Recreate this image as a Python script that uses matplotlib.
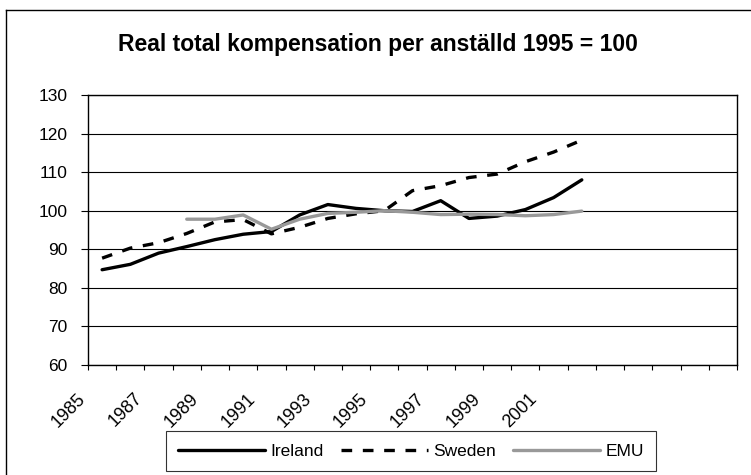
import matplotlib
matplotlib.use("Agg")
import matplotlib.pyplot as plt
from matplotlib.lines import Line2D
from matplotlib.transforms import ScaledTranslation
import numpy as np

plt.rcParams['font.family'] = ['Liberation Sans', 'DejaVu Sans']

# ---- data ----
categories = [str(y) for y in range(1985, 2008)]
tick_labels = ['1985', '', '1987', '', '1989', '', '1991', '', '1993', '', '1995', '',
               '1997', '', '1999', '', '2001', '', '', '', '', '', '']
ireland = [84.7, 86.1, 89.0, 90.7, 92.5, 93.9, 94.6, 98.9, 101.6, 100.6, 100.0, 99.8,
           102.6, 98.0, 98.6, 100.3, 103.4, 108.0]
sweden = [87.7, 90.3, 91.7, 94.1, 97.1, 97.7, 94.0, 95.7, 98.0, 99.2, 100.0, 105.2,
          106.5, 108.6, 109.5, 112.7, 115.2, 118.3]
emu = [None, None, None, 97.8, 97.8, 98.9, 95.2, 97.8, 99.3, 99.6, 100.0, 99.6,
       99.0, 99.1, 99.0, 98.7, 99.0, 99.9]
series_names = ['Ireland', 'Sweden', 'EMU']
title = 'Real total kompensation per anställd 1995 = 100'
yticks = [60, 70, 80, 90, 100, 110, 120, 130]

W, H = 751, 475
fig = plt.figure(figsize=(W / 100, H / 100), dpi=100)
ax = fig.add_axes([88 / W, 1 - 365 / H, (737 - 88) / W, (365 - 95) / H])

x = np.arange(len(categories))
def vals(v):
    return np.array([np.nan if a is None else a for a in v], dtype=float)

ax.plot(x[:len(ireland)], vals(ireland), color='black', lw=2.4, label=series_names[0],
        solid_joinstyle='round', solid_capstyle='round')
ax.plot(x[:len(sweden)], vals(sweden), color='black', lw=2.4, label=series_names[1],
        dashes=(3.2, 3.2))
ax.plot(x[:len(emu)], vals(emu), color='#999999', lw=2.4, label=series_names[2],
        solid_joinstyle='round', solid_capstyle='round')

ax.set_xlim(-0.5, len(categories) - 0.5)
ax.set_ylim(60, 130)
ax.set_yticks(yticks)
ax.set_yticklabels([str(t) for t in yticks], fontsize=12.5)
ax.yaxis.grid(True, color='black', lw=0.8)
ax.set_axisbelow(True)
ax.tick_params(axis='y', direction='out', length=5, width=0.8, pad=10, colors='black')

ax.set_xticks(np.arange(-0.5, len(categories), 1.0))
ax.set_xticklabels([])
ax.tick_params(axis='x', direction='out', length=3.5, width=0.8)
ax.set_xticks(x, minor=True)
ax.set_xticklabels(tick_labels, minor=True, rotation=45, ha='right', va='center',
                   rotation_mode='anchor', fontsize=13)
ax.tick_params(axis='x', which='minor', length=0, pad=0)
for lab in ax.get_xticklabels(minor=True):
    lab.set_transform(lab.get_transform() + ScaledTranslation(-0.19, -0.31, fig.dpi_scale_trans))

for s in ax.spines.values():
    s.set_linewidth(1.0)
    s.set_color('black')

fig.text(378 / W, 1 - 45 / H, title, ha='center', va='center', fontsize=16.5, fontweight='bold')

leg = fig.legend(loc='center', bbox_to_anchor=(411 / W, 1 - 451 / H), ncol=3,
                 frameon=True, fancybox=False, edgecolor='black', fontsize=12.5,
                 handlelength=5.0, handletextpad=0.3, columnspacing=1.0,
                 borderpad=0.7)
leg.get_frame().set_linewidth(0.8)

# outer chart frame
fig.add_artist(Line2D([6 / W, 6 / W], [0, 1 - 10 / H], color='black', lw=1.0))
fig.add_artist(Line2D([6 / W, 1], [1 - 10 / H, 1 - 10 / H], color='black', lw=1.0))

fig.savefig('out.png', dpi=100)
